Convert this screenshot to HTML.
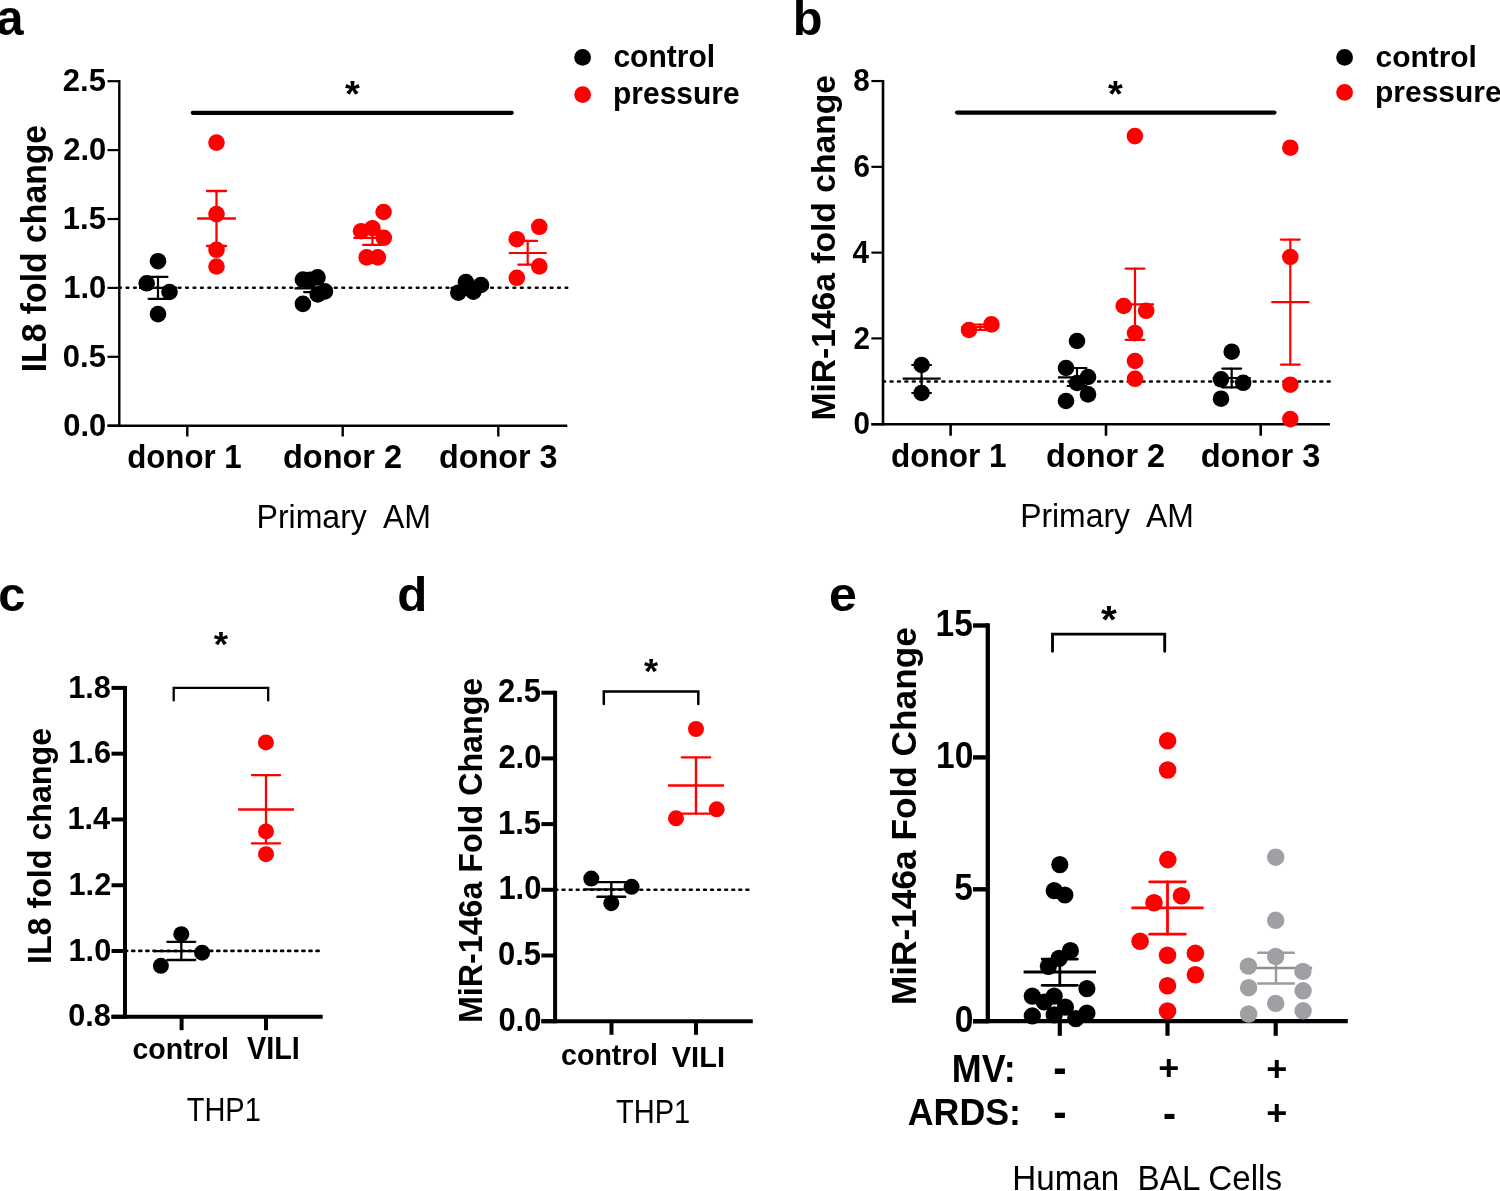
<!DOCTYPE html>
<html><head><meta charset="utf-8"><style>
html,body{margin:0;padding:0;background:#fff;width:1500px;height:1191px;overflow:hidden}
svg{display:block;will-change:transform}
text{font-family:"Liberation Sans",sans-serif}
</style></head><body>
<svg width="1500" height="1191" viewBox="0 0 1500 1191">
<rect width="1500" height="1191" fill="#fff"/>
<text transform="translate(-3.87,34.91) scale(0.9993,1)" font-size="49.09" font-weight="bold" fill="#000" xml:space="preserve">a</text>
<line x1="119.30" y1="80.10" x2="119.30" y2="426.90" stroke="#000" stroke-width="2.4" stroke-linecap="butt"/>
<line x1="107.50" y1="81.20" x2="119.30" y2="81.20" stroke="#000" stroke-width="2.2" stroke-linecap="butt"/>
<text transform="translate(62.82,91.10) scale(0.9770,1)" font-size="31.70" font-weight="bold" xml:space="preserve">2.5</text>
<line x1="107.50" y1="150.10" x2="119.30" y2="150.10" stroke="#000" stroke-width="2.2" stroke-linecap="butt"/>
<text transform="translate(63.29,160.00) scale(0.9770,1)" font-size="31.70" font-weight="bold" xml:space="preserve">2.0</text>
<line x1="107.50" y1="219.00" x2="119.30" y2="219.00" stroke="#000" stroke-width="2.2" stroke-linecap="butt"/>
<text transform="translate(62.82,228.90) scale(0.9770,1)" font-size="31.70" font-weight="bold" xml:space="preserve">1.5</text>
<line x1="107.50" y1="287.90" x2="119.30" y2="287.90" stroke="#000" stroke-width="2.2" stroke-linecap="butt"/>
<text transform="translate(63.29,297.80) scale(0.9770,1)" font-size="31.70" font-weight="bold" xml:space="preserve">1.0</text>
<line x1="107.50" y1="356.80" x2="119.30" y2="356.80" stroke="#000" stroke-width="2.2" stroke-linecap="butt"/>
<text transform="translate(62.82,366.70) scale(0.9770,1)" font-size="31.70" font-weight="bold" xml:space="preserve">0.5</text>
<line x1="107.50" y1="425.70" x2="119.30" y2="425.70" stroke="#000" stroke-width="2.2" stroke-linecap="butt"/>
<text transform="translate(63.29,435.60) scale(0.9770,1)" font-size="31.70" font-weight="bold" xml:space="preserve">0.0</text>
<line x1="107.50" y1="425.70" x2="567.30" y2="425.70" stroke="#000" stroke-width="2.4" stroke-linecap="butt"/>
<line x1="187.30" y1="425.70" x2="187.30" y2="436.50" stroke="#000" stroke-width="2.4" stroke-linecap="butt"/>
<line x1="342.70" y1="425.70" x2="342.70" y2="436.50" stroke="#000" stroke-width="2.4" stroke-linecap="butt"/>
<line x1="498.30" y1="425.70" x2="498.30" y2="436.50" stroke="#000" stroke-width="2.4" stroke-linecap="butt"/>
<line x1="119.20" y1="287.80" x2="567.20" y2="287.80" stroke="#000" stroke-width="2.5" stroke-linecap="round" stroke-dasharray="1.7 5.74"/>
<line x1="192.80" y1="112.80" x2="511.70" y2="112.80" stroke="#000" stroke-width="4.3" stroke-linecap="round"/>
<text transform="translate(345.11,107.01) scale(1.0085,1)" font-size="37.84" font-weight="bold" fill="#000" xml:space="preserve">*</text>
<line x1="158.00" y1="276.90" x2="158.00" y2="298.80" stroke="#000" stroke-width="2.2" stroke-linecap="round"/>
<line x1="148.60" y1="276.90" x2="167.40" y2="276.90" stroke="#000" stroke-width="2.2" stroke-linecap="round"/>
<line x1="148.60" y1="298.80" x2="167.40" y2="298.80" stroke="#000" stroke-width="2.2" stroke-linecap="round"/>
<line x1="139.00" y1="287.90" x2="177.00" y2="287.90" stroke="#000" stroke-width="2.2" stroke-linecap="butt"/>
<circle cx="158.00" cy="261.20" r="8.3" fill="#000"/>
<circle cx="146.70" cy="283.30" r="8.3" fill="#000"/>
<circle cx="169.50" cy="292.00" r="8.3" fill="#000"/>
<circle cx="158.00" cy="314.10" r="8.3" fill="#000"/>
<circle cx="216.50" cy="142.60" r="8.3" fill="#ff0000"/>
<circle cx="216.50" cy="214.10" r="8.3" fill="#ff0000"/>
<circle cx="216.50" cy="249.80" r="8.3" fill="#ff0000"/>
<circle cx="216.50" cy="266.50" r="8.3" fill="#ff0000"/>
<line x1="216.50" y1="191.00" x2="216.50" y2="246.00" stroke="#ff0000" stroke-width="2.3" stroke-linecap="round"/>
<line x1="206.95" y1="191.00" x2="226.05" y2="191.00" stroke="#ff0000" stroke-width="2.3" stroke-linecap="round"/>
<line x1="206.95" y1="246.00" x2="226.05" y2="246.00" stroke="#ff0000" stroke-width="2.3" stroke-linecap="round"/>
<line x1="197.10" y1="218.50" x2="235.90" y2="218.50" stroke="#ff0000" stroke-width="2.3" stroke-linecap="butt"/>
<circle cx="302.90" cy="303.90" r="8.3" fill="#000"/>
<circle cx="302.90" cy="279.50" r="8.3" fill="#000"/>
<circle cx="310.00" cy="279.70" r="8.3" fill="#000"/>
<circle cx="317.50" cy="277.40" r="8.3" fill="#000"/>
<circle cx="324.90" cy="291.40" r="8.3" fill="#000"/>
<circle cx="317.80" cy="294.40" r="8.3" fill="#000"/>
<line x1="313.50" y1="283.50" x2="313.50" y2="292.10" stroke="#000" stroke-width="2.2" stroke-linecap="round"/>
<line x1="304.10" y1="283.50" x2="322.90" y2="283.50" stroke="#000" stroke-width="2.2" stroke-linecap="round"/>
<line x1="304.10" y1="292.10" x2="322.90" y2="292.10" stroke="#000" stroke-width="2.2" stroke-linecap="round"/>
<line x1="294.50" y1="288.30" x2="332.50" y2="288.30" stroke="#000" stroke-width="2.2" stroke-linecap="butt"/>
<circle cx="383.60" cy="212.00" r="8.3" fill="#ff0000"/>
<circle cx="361.10" cy="231.20" r="8.3" fill="#ff0000"/>
<circle cx="372.40" cy="228.20" r="8.3" fill="#ff0000"/>
<circle cx="383.80" cy="237.80" r="8.3" fill="#ff0000"/>
<circle cx="366.70" cy="257.40" r="8.3" fill="#ff0000"/>
<circle cx="377.80" cy="257.40" r="8.3" fill="#ff0000"/>
<line x1="372.40" y1="230.80" x2="372.40" y2="244.80" stroke="#ff0000" stroke-width="2.2" stroke-linecap="round"/>
<line x1="363.00" y1="230.80" x2="381.80" y2="230.80" stroke="#ff0000" stroke-width="2.2" stroke-linecap="round"/>
<line x1="363.00" y1="244.80" x2="381.80" y2="244.80" stroke="#ff0000" stroke-width="2.2" stroke-linecap="round"/>
<line x1="353.40" y1="237.80" x2="391.40" y2="237.80" stroke="#ff0000" stroke-width="2.2" stroke-linecap="butt"/>
<circle cx="465.90" cy="282.00" r="8.3" fill="#000"/>
<circle cx="481.00" cy="285.00" r="8.3" fill="#000"/>
<circle cx="458.30" cy="292.70" r="8.3" fill="#000"/>
<circle cx="473.40" cy="291.60" r="8.3" fill="#000"/>
<line x1="469.50" y1="284.50" x2="469.50" y2="291.00" stroke="#000" stroke-width="2.2" stroke-linecap="round"/>
<line x1="460.10" y1="284.50" x2="478.90" y2="284.50" stroke="#000" stroke-width="2.2" stroke-linecap="round"/>
<line x1="460.10" y1="291.00" x2="478.90" y2="291.00" stroke="#000" stroke-width="2.2" stroke-linecap="round"/>
<line x1="450.50" y1="287.80" x2="488.50" y2="287.80" stroke="#000" stroke-width="2.2" stroke-linecap="butt"/>
<circle cx="539.30" cy="226.80" r="8.3" fill="#ff0000"/>
<circle cx="516.80" cy="239.20" r="8.3" fill="#ff0000"/>
<circle cx="539.30" cy="266.40" r="8.3" fill="#ff0000"/>
<circle cx="516.80" cy="277.80" r="8.3" fill="#ff0000"/>
<line x1="527.70" y1="240.90" x2="527.70" y2="264.60" stroke="#ff0000" stroke-width="2.2" stroke-linecap="round"/>
<line x1="518.30" y1="240.90" x2="537.10" y2="240.90" stroke="#ff0000" stroke-width="2.2" stroke-linecap="round"/>
<line x1="518.30" y1="264.60" x2="537.10" y2="264.60" stroke="#ff0000" stroke-width="2.2" stroke-linecap="round"/>
<line x1="508.70" y1="253.00" x2="546.70" y2="253.00" stroke="#ff0000" stroke-width="2.2" stroke-linecap="butt"/>
<circle cx="582.60" cy="57.40" r="8.4" fill="#000"/>
<circle cx="582.60" cy="94.60" r="8.4" fill="#ff0000"/>
<text transform="translate(613.40,67.29) scale(0.9772,1)" font-size="30.75" font-weight="bold" fill="#000" xml:space="preserve">control</text>
<text transform="translate(613.05,104.14) scale(0.9442,1)" font-size="31.73" font-weight="bold" fill="#000" xml:space="preserve">pressure</text>
<text transform="translate(127.15,468.07) scale(0.9452,1)" font-size="33.06" font-weight="bold" fill="#000" xml:space="preserve">donor 1</text>
<text transform="translate(283.00,468.07) scale(0.9861,1)" font-size="32.93" font-weight="bold" fill="#000" xml:space="preserve">donor 2</text>
<text transform="translate(439.01,468.07) scale(0.9814,1)" font-size="32.93" font-weight="bold" fill="#000" xml:space="preserve">donor 3</text>
<text transform="translate(256.54,528.47) scale(0.9856,1)" font-size="32.51" font-weight="normal" fill="#000" xml:space="preserve">Primary  AM</text>
<text transform="translate(45.80,372.29) rotate(-90) scale(0.9863,1)" font-size="34.21" font-weight="bold" xml:space="preserve">IL8 fold change</text>
<text transform="translate(792.63,34.52) scale(1.0230,1)" font-size="47.62" font-weight="bold" fill="#000" xml:space="preserve">b</text>
<line x1="883.00" y1="79.95" x2="883.00" y2="425.50" stroke="#000" stroke-width="2.6" stroke-linecap="butt"/>
<line x1="871.40" y1="81.05" x2="883.00" y2="81.05" stroke="#000" stroke-width="2.2" stroke-linecap="butt"/>
<text transform="translate(853.32,91.20) scale(0.9300,1)" font-size="31.90" font-weight="bold" xml:space="preserve">8</text>
<line x1="871.40" y1="166.84" x2="883.00" y2="166.84" stroke="#000" stroke-width="2.2" stroke-linecap="butt"/>
<text transform="translate(853.47,176.99) scale(0.9300,1)" font-size="31.90" font-weight="bold" xml:space="preserve">6</text>
<line x1="871.40" y1="252.62" x2="883.00" y2="252.62" stroke="#000" stroke-width="2.2" stroke-linecap="butt"/>
<text transform="translate(852.58,262.77) scale(0.9300,1)" font-size="31.90" font-weight="bold" xml:space="preserve">4</text>
<line x1="871.40" y1="338.41" x2="883.00" y2="338.41" stroke="#000" stroke-width="2.2" stroke-linecap="butt"/>
<text transform="translate(853.62,348.56) scale(0.9300,1)" font-size="31.90" font-weight="bold" xml:space="preserve">2</text>
<line x1="871.40" y1="424.20" x2="883.00" y2="424.20" stroke="#000" stroke-width="2.2" stroke-linecap="butt"/>
<text transform="translate(853.62,434.35) scale(0.9300,1)" font-size="31.90" font-weight="bold" xml:space="preserve">0</text>
<line x1="871.40" y1="424.20" x2="1330.00" y2="424.20" stroke="#000" stroke-width="2.6" stroke-linecap="butt"/>
<line x1="950.60" y1="424.20" x2="950.60" y2="435.70" stroke="#000" stroke-width="2.6" stroke-linecap="butt"/>
<line x1="1106.00" y1="424.20" x2="1106.00" y2="435.70" stroke="#000" stroke-width="2.6" stroke-linecap="butt"/>
<line x1="1260.70" y1="424.20" x2="1260.70" y2="435.70" stroke="#000" stroke-width="2.6" stroke-linecap="butt"/>
<line x1="883.20" y1="381.50" x2="1329.80" y2="381.50" stroke="#000" stroke-width="2.5" stroke-linecap="round" stroke-dasharray="1.9 5.51"/>
<line x1="957.10" y1="112.60" x2="1274.40" y2="112.60" stroke="#000" stroke-width="4.3" stroke-linecap="round"/>
<text transform="translate(1108.01,106.72) scale(1.0087,1)" font-size="37.57" font-weight="bold" fill="#000" xml:space="preserve">*</text>
<line x1="921.60" y1="365.00" x2="921.60" y2="393.00" stroke="#000" stroke-width="2.2" stroke-linecap="round"/>
<line x1="912.20" y1="365.00" x2="931.00" y2="365.00" stroke="#000" stroke-width="2.2" stroke-linecap="round"/>
<line x1="912.20" y1="393.00" x2="931.00" y2="393.00" stroke="#000" stroke-width="2.2" stroke-linecap="round"/>
<line x1="902.60" y1="378.60" x2="940.60" y2="378.60" stroke="#000" stroke-width="2.2" stroke-linecap="butt"/>
<circle cx="921.60" cy="365.00" r="8.3" fill="#000"/>
<circle cx="921.60" cy="393.00" r="8.3" fill="#000"/>
<circle cx="969.00" cy="330.00" r="8.3" fill="#ff0000"/>
<circle cx="991.40" cy="324.40" r="8.3" fill="#ff0000"/>
<line x1="980.20" y1="324.50" x2="980.20" y2="330.00" stroke="#ff0000" stroke-width="2.2" stroke-linecap="round"/>
<line x1="970.80" y1="324.50" x2="989.60" y2="324.50" stroke="#ff0000" stroke-width="2.2" stroke-linecap="round"/>
<line x1="970.80" y1="330.00" x2="989.60" y2="330.00" stroke="#ff0000" stroke-width="2.2" stroke-linecap="round"/>
<line x1="961.20" y1="327.20" x2="999.20" y2="327.20" stroke="#ff0000" stroke-width="2.2" stroke-linecap="butt"/>
<circle cx="1077.00" cy="341.00" r="8.3" fill="#000"/>
<circle cx="1066.00" cy="368.00" r="8.3" fill="#000"/>
<circle cx="1088.00" cy="377.00" r="8.3" fill="#000"/>
<circle cx="1077.00" cy="383.00" r="8.3" fill="#000"/>
<circle cx="1088.00" cy="394.40" r="8.3" fill="#000"/>
<circle cx="1066.00" cy="401.00" r="8.3" fill="#000"/>
<line x1="1077.00" y1="368.00" x2="1077.00" y2="386.00" stroke="#000" stroke-width="2.2" stroke-linecap="round"/>
<line x1="1067.60" y1="368.00" x2="1086.40" y2="368.00" stroke="#000" stroke-width="2.2" stroke-linecap="round"/>
<line x1="1067.60" y1="386.00" x2="1086.40" y2="386.00" stroke="#000" stroke-width="2.2" stroke-linecap="round"/>
<line x1="1058.00" y1="377.40" x2="1096.00" y2="377.40" stroke="#000" stroke-width="2.2" stroke-linecap="butt"/>
<circle cx="1134.90" cy="136.10" r="8.3" fill="#ff0000"/>
<circle cx="1123.70" cy="306.00" r="8.3" fill="#ff0000"/>
<circle cx="1146.20" cy="310.80" r="8.3" fill="#ff0000"/>
<circle cx="1135.00" cy="333.10" r="8.3" fill="#ff0000"/>
<circle cx="1135.00" cy="361.00" r="8.3" fill="#ff0000"/>
<circle cx="1135.00" cy="378.80" r="8.3" fill="#ff0000"/>
<line x1="1135.00" y1="268.60" x2="1135.00" y2="339.80" stroke="#ff0000" stroke-width="2.2" stroke-linecap="round"/>
<line x1="1125.60" y1="268.60" x2="1144.40" y2="268.60" stroke="#ff0000" stroke-width="2.2" stroke-linecap="round"/>
<line x1="1125.60" y1="339.80" x2="1144.40" y2="339.80" stroke="#ff0000" stroke-width="2.2" stroke-linecap="round"/>
<line x1="1116.00" y1="304.40" x2="1154.00" y2="304.40" stroke="#ff0000" stroke-width="2.2" stroke-linecap="butt"/>
<circle cx="1231.70" cy="351.70" r="8.3" fill="#000"/>
<circle cx="1221.00" cy="379.30" r="8.3" fill="#000"/>
<circle cx="1243.20" cy="382.80" r="8.3" fill="#000"/>
<circle cx="1221.00" cy="398.70" r="8.3" fill="#000"/>
<line x1="1231.70" y1="368.60" x2="1231.70" y2="387.40" stroke="#000" stroke-width="2.2" stroke-linecap="round"/>
<line x1="1222.30" y1="368.60" x2="1241.10" y2="368.60" stroke="#000" stroke-width="2.2" stroke-linecap="round"/>
<line x1="1222.30" y1="387.40" x2="1241.10" y2="387.40" stroke="#000" stroke-width="2.2" stroke-linecap="round"/>
<line x1="1212.70" y1="378.00" x2="1250.70" y2="378.00" stroke="#000" stroke-width="2.2" stroke-linecap="butt"/>
<circle cx="1290.30" cy="147.70" r="8.3" fill="#ff0000"/>
<circle cx="1290.30" cy="257.00" r="8.3" fill="#ff0000"/>
<circle cx="1290.30" cy="384.70" r="8.3" fill="#ff0000"/>
<circle cx="1290.30" cy="419.10" r="8.3" fill="#ff0000"/>
<line x1="1290.30" y1="239.60" x2="1290.30" y2="364.60" stroke="#ff0000" stroke-width="2.2" stroke-linecap="round"/>
<line x1="1280.90" y1="239.60" x2="1299.70" y2="239.60" stroke="#ff0000" stroke-width="2.2" stroke-linecap="round"/>
<line x1="1280.90" y1="364.60" x2="1299.70" y2="364.60" stroke="#ff0000" stroke-width="2.2" stroke-linecap="round"/>
<line x1="1271.30" y1="302.20" x2="1309.30" y2="302.20" stroke="#ff0000" stroke-width="2.2" stroke-linecap="butt"/>
<circle cx="1344.60" cy="57.40" r="8.4" fill="#000"/>
<circle cx="1344.60" cy="92.40" r="8.4" fill="#ff0000"/>
<text transform="translate(1375.50,67.40) scale(0.9873,1)" font-size="30.34" font-weight="bold" fill="#000" xml:space="preserve">control</text>
<text transform="translate(1375.05,101.94) scale(0.9900,1)" font-size="30.27" font-weight="bold" fill="#000" xml:space="preserve">pressure</text>
<text transform="translate(891.04,466.58) scale(0.9737,1)" font-size="32.38" font-weight="bold" fill="#000" xml:space="preserve">donor 1</text>
<text transform="translate(1046.10,466.58) scale(1.0027,1)" font-size="32.38" font-weight="bold" fill="#000" xml:space="preserve">donor 2</text>
<text transform="translate(1200.69,466.58) scale(1.0082,1)" font-size="32.38" font-weight="bold" fill="#000" xml:space="preserve">donor 3</text>
<text transform="translate(1020.15,526.63) scale(0.9745,1)" font-size="32.73" font-weight="normal" fill="#000" xml:space="preserve">Primary  AM</text>
<text transform="translate(834.80,420.59) rotate(-90) scale(0.9870,1)" font-size="34.07" font-weight="bold" xml:space="preserve">MiR-146a fold change</text>
<text transform="translate(-1.65,611.32) scale(1.0104,1)" font-size="48.36" font-weight="bold" fill="#000" xml:space="preserve">c</text>
<line x1="125.00" y1="685.90" x2="125.00" y2="1018.80" stroke="#000" stroke-width="4.0" stroke-linecap="butt"/>
<line x1="111.50" y1="687.90" x2="125.00" y2="687.90" stroke="#000" stroke-width="4.0" stroke-linecap="butt"/>
<text transform="translate(68.18,697.50) scale(0.9580,1)" font-size="32.10" font-weight="bold" xml:space="preserve">1.8</text>
<line x1="111.50" y1="753.68" x2="125.00" y2="753.68" stroke="#000" stroke-width="4.0" stroke-linecap="butt"/>
<text transform="translate(68.33,763.28) scale(0.9580,1)" font-size="32.10" font-weight="bold" xml:space="preserve">1.6</text>
<line x1="111.50" y1="819.46" x2="125.00" y2="819.46" stroke="#000" stroke-width="4.0" stroke-linecap="butt"/>
<text transform="translate(67.41,829.06) scale(0.9580,1)" font-size="32.10" font-weight="bold" xml:space="preserve">1.4</text>
<line x1="111.50" y1="885.24" x2="125.00" y2="885.24" stroke="#000" stroke-width="4.0" stroke-linecap="butt"/>
<text transform="translate(68.49,894.84) scale(0.9580,1)" font-size="32.10" font-weight="bold" xml:space="preserve">1.2</text>
<line x1="111.50" y1="951.02" x2="125.00" y2="951.02" stroke="#000" stroke-width="4.0" stroke-linecap="butt"/>
<text transform="translate(68.49,960.62) scale(0.9580,1)" font-size="32.10" font-weight="bold" xml:space="preserve">1.0</text>
<line x1="111.50" y1="1016.80" x2="125.00" y2="1016.80" stroke="#000" stroke-width="4.0" stroke-linecap="butt"/>
<text transform="translate(68.18,1026.40) scale(0.9580,1)" font-size="32.10" font-weight="bold" xml:space="preserve">0.8</text>
<line x1="111.50" y1="1016.80" x2="322.70" y2="1016.80" stroke="#000" stroke-width="4.0" stroke-linecap="butt"/>
<line x1="181.60" y1="1016.80" x2="181.60" y2="1030.20" stroke="#000" stroke-width="4.0" stroke-linecap="butt"/>
<line x1="266.00" y1="1016.80" x2="266.00" y2="1030.20" stroke="#000" stroke-width="4.0" stroke-linecap="butt"/>
<line x1="125.10" y1="950.90" x2="318.70" y2="950.90" stroke="#000" stroke-width="2.6" stroke-linecap="round" stroke-dasharray="2.1 4.99"/>
<path d="M173.7,700.4 V687.9 H268.2 V700.4" fill="none" stroke="#000" stroke-width="2.3" stroke-linecap="round"/>
<text transform="translate(213.82,655.87) scale(1.0650,1)" font-size="34.59" font-weight="bold" fill="#000" xml:space="preserve">*</text>
<circle cx="181.30" cy="934.20" r="8.0" fill="#000"/>
<circle cx="160.90" cy="965.80" r="8.0" fill="#000"/>
<circle cx="202.10" cy="952.70" r="8.0" fill="#000"/>
<line x1="181.30" y1="941.80" x2="181.30" y2="960.00" stroke="#000" stroke-width="2.3" stroke-linecap="round"/>
<line x1="167.35" y1="941.80" x2="195.25" y2="941.80" stroke="#000" stroke-width="2.3" stroke-linecap="round"/>
<line x1="167.35" y1="960.00" x2="195.25" y2="960.00" stroke="#000" stroke-width="2.3" stroke-linecap="round"/>
<line x1="153.70" y1="951.10" x2="208.90" y2="951.10" stroke="#000" stroke-width="2.3" stroke-linecap="butt"/>
<circle cx="265.90" cy="742.40" r="8.0" fill="#ff0000"/>
<circle cx="266.00" cy="831.40" r="8.0" fill="#ff0000"/>
<circle cx="266.00" cy="854.20" r="8.0" fill="#ff0000"/>
<line x1="266.00" y1="775.20" x2="266.00" y2="843.40" stroke="#ff0000" stroke-width="2.3" stroke-linecap="round"/>
<line x1="251.95" y1="775.20" x2="280.05" y2="775.20" stroke="#ff0000" stroke-width="2.3" stroke-linecap="round"/>
<line x1="251.95" y1="843.40" x2="280.05" y2="843.40" stroke="#ff0000" stroke-width="2.3" stroke-linecap="round"/>
<line x1="238.10" y1="809.50" x2="293.90" y2="809.50" stroke="#ff0000" stroke-width="2.3" stroke-linecap="butt"/>
<text transform="translate(132.46,1058.51) scale(0.9704,1)" font-size="29.39" font-weight="bold" fill="#000" xml:space="preserve">control</text>
<text transform="translate(246.91,1058.60) scale(0.9296,1)" font-size="31.01" font-weight="bold" fill="#000" xml:space="preserve">VILI</text>
<text transform="translate(186.67,1120.60) scale(0.8943,1)" font-size="32.46" font-weight="normal" fill="#000" xml:space="preserve">THP1</text>
<text transform="translate(51.20,963.99) rotate(-90) scale(0.9847,1)" font-size="32.69" font-weight="bold" xml:space="preserve">IL8 fold change</text>
<text transform="translate(397.33,611.32) scale(1.0325,1)" font-size="47.76" font-weight="bold" fill="#000" xml:space="preserve">d</text>
<line x1="555.10" y1="690.70" x2="555.10" y2="1023.20" stroke="#000" stroke-width="4.0" stroke-linecap="butt"/>
<line x1="541.40" y1="692.70" x2="555.10" y2="692.70" stroke="#000" stroke-width="4.0" stroke-linecap="butt"/>
<text transform="translate(497.92,702.30) scale(0.9560,1)" font-size="32.40" font-weight="bold" xml:space="preserve">2.5</text>
<line x1="541.40" y1="758.40" x2="555.10" y2="758.40" stroke="#000" stroke-width="4.0" stroke-linecap="butt"/>
<text transform="translate(498.38,768.00) scale(0.9560,1)" font-size="32.40" font-weight="bold" xml:space="preserve">2.0</text>
<line x1="541.40" y1="824.10" x2="555.10" y2="824.10" stroke="#000" stroke-width="4.0" stroke-linecap="butt"/>
<text transform="translate(497.92,833.70) scale(0.9560,1)" font-size="32.40" font-weight="bold" xml:space="preserve">1.5</text>
<line x1="541.40" y1="889.80" x2="555.10" y2="889.80" stroke="#000" stroke-width="4.0" stroke-linecap="butt"/>
<text transform="translate(498.38,899.40) scale(0.9560,1)" font-size="32.40" font-weight="bold" xml:space="preserve">1.0</text>
<line x1="541.40" y1="955.50" x2="555.10" y2="955.50" stroke="#000" stroke-width="4.0" stroke-linecap="butt"/>
<text transform="translate(497.92,965.10) scale(0.9560,1)" font-size="32.40" font-weight="bold" xml:space="preserve">0.5</text>
<line x1="541.40" y1="1021.20" x2="555.10" y2="1021.20" stroke="#000" stroke-width="4.0" stroke-linecap="butt"/>
<text transform="translate(498.38,1030.80) scale(0.9560,1)" font-size="32.40" font-weight="bold" xml:space="preserve">0.0</text>
<line x1="541.40" y1="1021.20" x2="752.80" y2="1021.20" stroke="#000" stroke-width="4.0" stroke-linecap="butt"/>
<line x1="611.50" y1="1021.20" x2="611.50" y2="1034.80" stroke="#000" stroke-width="4.0" stroke-linecap="butt"/>
<line x1="696.00" y1="1021.20" x2="696.00" y2="1034.80" stroke="#000" stroke-width="4.0" stroke-linecap="butt"/>
<line x1="555.60" y1="889.70" x2="748.40" y2="889.70" stroke="#000" stroke-width="2.6" stroke-linecap="round" stroke-dasharray="1.8 5.27"/>
<path d="M603.8,704.1 V691.5 H698.3 V704.1" fill="none" stroke="#000" stroke-width="2.5" stroke-linecap="round"/>
<text transform="translate(643.92,682.52) scale(1.0179,1)" font-size="35.68" font-weight="bold" fill="#000" xml:space="preserve">*</text>
<circle cx="696.00" cy="729.00" r="8.0" fill="#ff0000"/>
<circle cx="676.00" cy="818.30" r="8.0" fill="#ff0000"/>
<circle cx="716.70" cy="809.30" r="8.0" fill="#ff0000"/>
<line x1="696.00" y1="757.30" x2="696.00" y2="813.60" stroke="#ff0000" stroke-width="2.35" stroke-linecap="round"/>
<line x1="681.88" y1="757.30" x2="710.12" y2="757.30" stroke="#ff0000" stroke-width="2.35" stroke-linecap="round"/>
<line x1="681.88" y1="813.60" x2="710.12" y2="813.60" stroke="#ff0000" stroke-width="2.35" stroke-linecap="round"/>
<line x1="668.00" y1="785.50" x2="724.00" y2="785.50" stroke="#ff0000" stroke-width="2.35" stroke-linecap="butt"/>
<circle cx="591.30" cy="878.60" r="8.0" fill="#000"/>
<circle cx="631.60" cy="886.80" r="8.0" fill="#000"/>
<circle cx="611.30" cy="903.20" r="8.0" fill="#000"/>
<line x1="611.30" y1="882.10" x2="611.30" y2="896.70" stroke="#000" stroke-width="2.35" stroke-linecap="round"/>
<line x1="597.38" y1="882.10" x2="625.22" y2="882.10" stroke="#000" stroke-width="2.35" stroke-linecap="round"/>
<line x1="597.38" y1="896.70" x2="625.22" y2="896.70" stroke="#000" stroke-width="2.35" stroke-linecap="round"/>
<line x1="583.50" y1="889.30" x2="639.10" y2="889.30" stroke="#000" stroke-width="2.35" stroke-linecap="butt"/>
<text transform="translate(561.06,1064.91) scale(0.9725,1)" font-size="29.39" font-weight="bold" fill="#000" xml:space="preserve">control</text>
<text transform="translate(671.71,1067.40) scale(0.9548,1)" font-size="30.43" font-weight="bold" fill="#000" xml:space="preserve">VILI</text>
<text transform="translate(616.07,1123.20) scale(0.8943,1)" font-size="32.46" font-weight="normal" fill="#000" xml:space="preserve">THP1</text>
<text transform="translate(482.10,1022.99) rotate(-90) scale(0.9849,1)" font-size="32.69" font-weight="bold" xml:space="preserve">MiR-146a Fold Change</text>
<text transform="translate(829.00,611.31) scale(1.0300,1)" font-size="48.55" font-weight="bold" fill="#000" xml:space="preserve">e</text>
<line x1="987.80" y1="623.30" x2="987.80" y2="1023.30" stroke="#000" stroke-width="4.3" stroke-linecap="butt"/>
<line x1="973.00" y1="625.50" x2="987.80" y2="625.50" stroke="#000" stroke-width="4.4" stroke-linecap="butt"/>
<text transform="translate(935.57,636.20) scale(0.9250,1)" font-size="36.30" font-weight="bold" xml:space="preserve">15</text>
<line x1="973.00" y1="757.40" x2="987.80" y2="757.40" stroke="#000" stroke-width="4.4" stroke-linecap="butt"/>
<text transform="translate(936.07,768.10) scale(0.9250,1)" font-size="36.30" font-weight="bold" xml:space="preserve">10</text>
<line x1="973.00" y1="889.30" x2="987.80" y2="889.30" stroke="#000" stroke-width="4.4" stroke-linecap="butt"/>
<text transform="translate(954.20,900.00) scale(0.9250,1)" font-size="36.30" font-weight="bold" xml:space="preserve">5</text>
<line x1="973.00" y1="1021.20" x2="987.80" y2="1021.20" stroke="#000" stroke-width="4.4" stroke-linecap="butt"/>
<text transform="translate(954.71,1031.90) scale(0.9250,1)" font-size="36.30" font-weight="bold" xml:space="preserve">0</text>
<line x1="973.00" y1="1021.20" x2="1347.80" y2="1021.20" stroke="#000" stroke-width="4.3" stroke-linecap="butt"/>
<line x1="1059.80" y1="1021.20" x2="1059.80" y2="1035.80" stroke="#000" stroke-width="4.2" stroke-linecap="butt"/>
<line x1="1167.50" y1="1021.20" x2="1167.50" y2="1035.80" stroke="#000" stroke-width="4.2" stroke-linecap="butt"/>
<line x1="1275.70" y1="1021.20" x2="1275.70" y2="1035.80" stroke="#000" stroke-width="4.2" stroke-linecap="butt"/>
<path d="M1052.5,651.2 V634.1 H1164.7 V651.2" fill="none" stroke="#000" stroke-width="2.9" stroke-linecap="round"/>
<text transform="translate(1101.00,632.87) scale(1.0486,1)" font-size="38.65" font-weight="bold" fill="#000" xml:space="preserve">*</text>
<circle cx="1059.80" cy="864.60" r="8.6" fill="#000"/>
<circle cx="1054.20" cy="890.70" r="8.6" fill="#000"/>
<circle cx="1064.90" cy="895.00" r="8.6" fill="#000"/>
<circle cx="1070.40" cy="950.70" r="8.6" fill="#000"/>
<circle cx="1059.10" cy="958.40" r="8.6" fill="#000"/>
<circle cx="1048.40" cy="966.30" r="8.6" fill="#000"/>
<circle cx="1086.90" cy="988.70" r="8.6" fill="#000"/>
<circle cx="1032.30" cy="996.20" r="8.6" fill="#000"/>
<circle cx="1044.20" cy="1002.00" r="8.6" fill="#000"/>
<circle cx="1054.20" cy="996.20" r="8.6" fill="#000"/>
<circle cx="1065.40" cy="1007.20" r="8.6" fill="#000"/>
<circle cx="1032.30" cy="1015.80" r="8.6" fill="#000"/>
<circle cx="1054.20" cy="1014.80" r="8.6" fill="#000"/>
<circle cx="1075.80" cy="1018.60" r="8.6" fill="#000"/>
<circle cx="1086.90" cy="1013.00" r="8.6" fill="#000"/>
<line x1="1059.80" y1="959.10" x2="1059.80" y2="985.30" stroke="#000" stroke-width="2.8" stroke-linecap="round"/>
<line x1="1042.20" y1="959.10" x2="1077.40" y2="959.10" stroke="#000" stroke-width="2.8" stroke-linecap="round"/>
<line x1="1042.20" y1="985.30" x2="1077.40" y2="985.30" stroke="#000" stroke-width="2.8" stroke-linecap="round"/>
<line x1="1023.60" y1="972.00" x2="1096.00" y2="972.00" stroke="#000" stroke-width="2.8" stroke-linecap="butt"/>
<circle cx="1167.60" cy="740.70" r="8.8" fill="#ff0000"/>
<circle cx="1167.60" cy="770.00" r="8.8" fill="#ff0000"/>
<circle cx="1167.80" cy="859.60" r="8.8" fill="#ff0000"/>
<circle cx="1181.40" cy="895.70" r="8.8" fill="#ff0000"/>
<circle cx="1154.00" cy="902.80" r="8.8" fill="#ff0000"/>
<circle cx="1140.10" cy="941.30" r="8.8" fill="#ff0000"/>
<circle cx="1167.50" cy="955.30" r="8.8" fill="#ff0000"/>
<circle cx="1195.40" cy="953.30" r="8.8" fill="#ff0000"/>
<circle cx="1195.40" cy="974.80" r="8.8" fill="#ff0000"/>
<circle cx="1167.50" cy="985.70" r="8.8" fill="#ff0000"/>
<circle cx="1167.50" cy="1011.00" r="8.8" fill="#ff0000"/>
<line x1="1167.50" y1="881.80" x2="1167.50" y2="934.20" stroke="#ff0000" stroke-width="2.8" stroke-linecap="round"/>
<line x1="1149.70" y1="881.80" x2="1185.30" y2="881.80" stroke="#ff0000" stroke-width="2.8" stroke-linecap="round"/>
<line x1="1149.70" y1="934.20" x2="1185.30" y2="934.20" stroke="#ff0000" stroke-width="2.8" stroke-linecap="round"/>
<line x1="1131.40" y1="907.90" x2="1203.60" y2="907.90" stroke="#ff0000" stroke-width="2.8" stroke-linecap="butt"/>
<line x1="1276.00" y1="952.70" x2="1276.00" y2="983.40" stroke="#9c9ba0" stroke-width="2.5" stroke-linecap="round"/>
<line x1="1258.15" y1="952.70" x2="1293.85" y2="952.70" stroke="#9c9ba0" stroke-width="2.5" stroke-linecap="round"/>
<line x1="1258.15" y1="983.40" x2="1293.85" y2="983.40" stroke="#9c9ba0" stroke-width="2.5" stroke-linecap="round"/>
<line x1="1239.80" y1="968.10" x2="1312.20" y2="968.10" stroke="#8f8f8b" stroke-width="2.5" stroke-linecap="butt"/>
<circle cx="1275.70" cy="857.20" r="8.7" fill="#a09fa4"/>
<circle cx="1275.70" cy="920.30" r="8.7" fill="#a09fa4"/>
<circle cx="1275.70" cy="956.50" r="8.7" fill="#a09fa4"/>
<circle cx="1248.40" cy="966.10" r="8.7" fill="#a09fa4"/>
<circle cx="1302.90" cy="971.40" r="8.7" fill="#a09fa4"/>
<circle cx="1248.60" cy="987.70" r="8.7" fill="#a09fa4"/>
<circle cx="1303.10" cy="990.80" r="8.7" fill="#a09fa4"/>
<circle cx="1275.70" cy="1003.40" r="8.7" fill="#a09fa4"/>
<circle cx="1248.60" cy="1014.00" r="8.7" fill="#a09fa4"/>
<circle cx="1303.10" cy="1010.80" r="8.7" fill="#a09fa4"/>
<text transform="translate(951.87,1082.20) scale(0.9458,1)" font-size="37.97" font-weight="bold" fill="#000" xml:space="preserve">MV:</text>
<text transform="translate(907.71,1124.82) scale(0.9483,1)" font-size="37.75" font-weight="bold" fill="#000" xml:space="preserve">ARDS:</text>
<text transform="translate(1053.20,1082.73) scale(0.8571,1)" font-size="46.67" font-weight="bold" fill="#000" xml:space="preserve">-</text>
<text transform="translate(1158.36,1080.45) scale(1.0211,1)" font-size="35.29" font-weight="bold" fill="#000" xml:space="preserve">+</text>
<text transform="translate(1266.36,1081.19) scale(1.0044,1)" font-size="35.88" font-weight="bold" fill="#000" xml:space="preserve">+</text>
<text transform="translate(1053.20,1127.20) scale(0.8889,1)" font-size="45.00" font-weight="bold" fill="#000" xml:space="preserve">-</text>
<text transform="translate(1162.93,1127.53) scale(0.9412,1)" font-size="41.67" font-weight="bold" fill="#000" xml:space="preserve">-</text>
<text transform="translate(1266.36,1125.45) scale(1.0211,1)" font-size="35.29" font-weight="bold" fill="#000" xml:space="preserve">+</text>
<text transform="translate(1012.24,1190.30) scale(0.9703,1)" font-size="34.21" font-weight="normal" fill="#000" xml:space="preserve">Human  BAL Cells</text>
<text transform="translate(916.10,1005.09) rotate(-90) scale(0.9831,1)" font-size="35.86" font-weight="bold" xml:space="preserve">MiR-146a Fold Change</text>
</svg>
</body></html>
